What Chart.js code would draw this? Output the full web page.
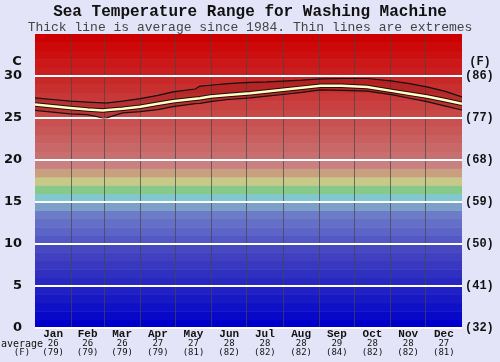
<!DOCTYPE html>
<html>
<head>
<meta charset="utf-8">
<script src="https://cdn.jsdelivr.net/npm/chart.js@4.4.0/dist/chart.umd.min.js"></script>
<style>
  body { margin: 0; background: #e4e4f8; }
  #wrap { width: 500px; height: 362px; }
</style>
</head>
<body>
<div id="wrap"><canvas id="seaChart" width="500" height="362"></canvas></div>
<script>
// Datos
const months = ["Jan", "Feb", "Mar", "Apr", "May", "Jun", "Jul", "Aug", "Sep", "Oct", "Nov", "Dec"];
const monthDays = [31, 28, 31, 30, 31, 30, 31, 31, 30, 31, 30, 31];
const monthAvgC = [26, 26, 26, 27, 27, 28, 28, 28, 29, 28, 28, 27];
const monthAvgF = [79, 79, 79, 79, 81, 82, 82, 82, 84, 82, 82, 81];

const days    = [0, 15, 30, 45, 58, 62, 75, 90, 105, 118, 137, 141, 150, 165, 184, 198, 212, 228, 244, 262, 284, 306, 320, 335, 350, 365];
const avgTemp = [26.6, 26.4, 26.2, 26.0, 25.9, 25.95, 26.1, 26.35, 26.7, 27.0, 27.3, 27.35, 27.55, 27.75, 27.95, 28.15, 28.35, 28.6, 28.85, 28.85, 28.7, 28.2, 27.9, 27.55, 27.15, 26.7];
const maxTemp = [27.4, 27.2, 27.0, 26.9, 26.8, 26.8, 27.0, 27.3, 27.7, 28.1, 28.45, 28.8, 28.9, 29.1, 29.25, 29.3, 29.4, 29.5, 29.65, 29.7, 29.7, 29.4, 29.1, 28.7, 28.2, 27.5];
const minTemp = [25.9, 25.7, 25.5, 25.4, 25.0, 25.05, 25.6, 25.75, 26.0, 26.35, 26.7, 26.75, 26.95, 27.2, 27.4, 27.6, 27.8, 28.05, 28.35, 28.3, 28.2, 27.75, 27.35, 26.95, 26.45, 25.95];

const yTicks = [0, 5, 10, 15, 20, 25, 30];

// Colores de las franjas (1 grado cada una, de 0 a 35)
const bandColors = [
  "#0000cc", "#0808c8", "#1010c8", "#1818c4", "#2020c4",
  "#2828c0", "#3030c0", "#3838c0", "#4040c0", "#4848c0",
  "#5258c4", "#5c64c8", "#6470c8", "#6c7cc8", "#7ca0c8",
  "#80c8d0", "#88c888", "#c8c888", "#c8a080", "#c88080",
  "#c87070", "#c86868", "#c86060", "#c85858", "#c85050",
  "#c84848", "#c84040", "#c83838", "#c83030", "#c82828",
  "#c82020", "#cc1818", "#cc1010", "#cc0808", "#cc0000"
];

// Inicios de mes en dias
const monthStarts = [];
let acc = 0;
monthDays.forEach(d => { monthStarts.push(acc); acc += d; });

const pts = arr => days.map((d, i) => ({ x: d, y: arr[i] }));

const bandsPlugin = {
  id: "bands",
  beforeDraw(chart) {
    const { ctx, chartArea, scales } = chart;
    ctx.save();
    ctx.fillStyle = "#e4e4f8";
    ctx.fillRect(0, 0, chart.width, chart.height);
    bandColors.forEach((c, i) => {
      const y1 = scales.y.getPixelForValue(i);
      const y2 = scales.y.getPixelForValue(i + 1);
      ctx.fillStyle = c;
      ctx.fillRect(chartArea.left, y2, chartArea.right - chartArea.left, y1 - y2 + 0.5);
    });
    ctx.restore();
  },
  afterDraw(chart) {
    const { ctx, scales } = chart;
    ctx.save();
    ctx.fillStyle = "#111";
    ctx.textAlign = "center";
    ctx.textBaseline = "middle";
    months.forEach((m, i) => {
      const cx = scales.x.getPixelForValue(monthStarts[i] + monthDays[i] / 2);
      ctx.font = "bold 11px 'Liberation Mono', monospace";
      ctx.fillText(m, cx, 334);
      ctx.font = "9px 'DejaVu Sans Mono', monospace";
      ctx.fillText(String(monthAvgC[i]), cx, 344);
      ctx.fillText("(" + monthAvgF[i] + ")", cx, 353);
    });
    ctx.font = "10px 'DejaVu Sans Mono', monospace";
    ctx.fillText("average", 22, 344);
    ctx.font = "9px 'DejaVu Sans Mono', monospace";
    ctx.fillText("(F)", 22, 353);
    ctx.font = "bold 13px 'DejaVu Sans', sans-serif";
    ctx.fillText("C", 17, 62);
    ctx.font = "bold 12px 'Liberation Mono', monospace";
    ctx.fillText("(F)", 480, 62);
    ctx.restore();
  }
};

new Chart(document.getElementById("seaChart"), {
  type: "line",
  data: {
    datasets: [
      {
        label: "avg",
        data: pts(avgTemp),
        borderColor: "#ffffc8",
        borderWidth: 2.5,
        pointRadius: 0,
        fill: false,
        order: 0
      },
      {
        label: "avgEdge",
        data: pts(avgTemp),
        borderColor: "#2a0a0a",
        borderWidth: 4.5,
        pointRadius: 0,
        fill: false,
        order: 1
      },
      {
        label: "max",
        data: pts(maxTemp),
        borderColor: "#111",
        borderWidth: 1.2,
        pointRadius: 0,
        fill: "+1",
        backgroundColor: "rgba(120,0,0,0.22)",
        order: 2
      },
      {
        label: "min",
        data: pts(minTemp),
        borderColor: "#111",
        borderWidth: 1.2,
        pointRadius: 0,
        fill: false,
        order: 3
      }
    ]
  },
  plugins: [bandsPlugin],
  options: {
    responsive: false,
    animation: false,
    layout: { padding: 0 },
    plugins: {
      legend: { display: false },
      tooltip: { enabled: false },
      title: {
        display: true,
        text: "Sea Temperature Range for Washing Machine",
        color: "#111",
        font: { family: "'Liberation Mono', monospace", size: 16, weight: "bold", lineHeight: 1 },
        padding: { top: 4, bottom: 0 }
      },
      subtitle: {
        display: true,
        text: "Thick line is average since 1984. Thin lines are extremes",
        color: "#444",
        font: { family: "'Liberation Mono', monospace", size: 13, lineHeight: 1 },
        padding: { top: 1, bottom: 0 }
      }
    },
    scales: {
      x: {
        type: "linear",
        min: 0,
        max: 365,
        afterBuildTicks: axis => { axis.ticks = monthStarts.slice(1).map(v => ({ value: v })); },
        afterFit: axis => { axis.height = 34; },
        ticks: { display: false },
        grid: { color: "rgba(70,70,70,0.7)", lineWidth: 1, drawTicks: false },
        border: { display: false }
      },
      y: {
        position: "left",
        min: 0,
        max: 35,
        afterBuildTicks: axis => { axis.ticks = yTicks.map(v => ({ value: v })); },
        afterFit: axis => { axis.width = 35; },
        ticks: {
          color: "#111",
          padding: 13,
          font: { family: "'DejaVu Sans', sans-serif", size: 13, weight: "bold" }
        },
        grid: { color: "#ffffff", lineWidth: 2, drawTicks: false },
        border: { display: false }
      },
      y2: {
        position: "right",
        min: 0,
        max: 35,
        afterBuildTicks: axis => { axis.ticks = yTicks.map(v => ({ value: v })); },
        afterFit: axis => { axis.width = 38; },
        ticks: {
          color: "#111",
          padding: 3,
          font: { family: "'Liberation Mono', monospace", size: 12, weight: "bold" },
          callback: v => "(" + Math.round(v * 9 / 5 + 32) + ")"
        },
        grid: { display: false, drawTicks: false },
        border: { display: false }
      }
    }
  }
});
</script>
</body>
</html>
